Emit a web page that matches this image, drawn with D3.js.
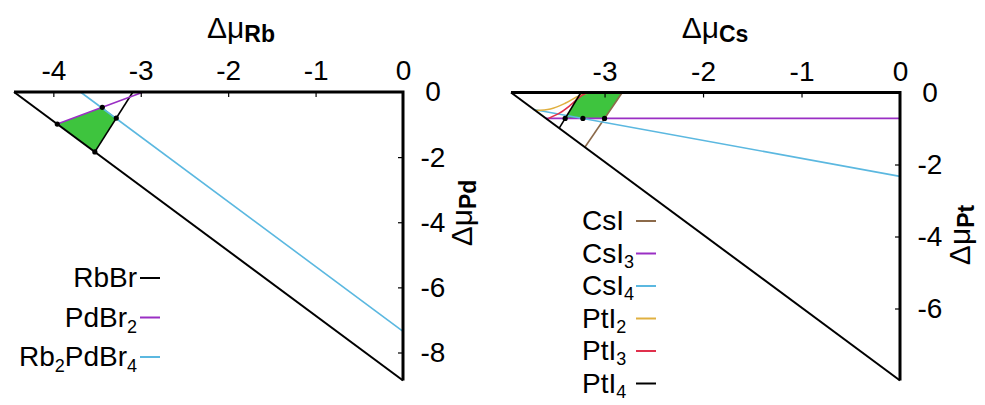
<!DOCTYPE html>
<html>
<head>
<meta charset="utf-8">
<script src="https://cdn.jsdelivr.net/npm/d3@7"></script>
<style>
  body { margin: 0; background: #fff; }
  text { font-family: "Liberation Sans", Arial, sans-serif; fill: #000; }
</style>
</head>
<body>
<script>
// ---- Rb / Pd / Br panel ----
const rbXTicks = [-4, -3, -2, -1, 0];
const rbYTicks = [0, -2, -4, -6, -8];
const rbCorner = [-4.45, -8.86];           // x-intercept, y-intercept of the hypotenuse
const rbNames = ["RbBr", "PdBr2", "Rb2PdBr4"];
const rbLines = [
  [[-3.09, 0], [-3.525, -1.84]],
  [[-3.955, -0.985], [-2.97, 0]],
  [[-3.69, 0], [0, -7.35]]
];
const rbStable = [[-3.955, -0.985], [-3.44, -0.47], [-3.28, -0.80], [-3.525, -1.84]];

// ---- Cs / Pt / I panel ----
const csXTicks = [-3, -2, -1, 0];
const csYTicks = [0, -2, -4, -6];
const csCorner = [-3.95, -8.0];
const csNames = ["CsI", "CsI3", "CsI4", "PtI2", "PtI3", "PtI4"];
const csLines = [
  [[-2.82, 0], [-3.2, -1.52]],
  [[-3.595, -0.72], [0, -0.72]],
  [[-3.72, -0.47], [0, -2.33]],
  [[-3.70, -0.50], [-3.55, -0.46], [-3.40, -0.30], [-3.25, -0.08], [-3.13, 0]],
  [[-3.57, -0.72], [-3.45, -0.56], [-3.35, -0.36], [-3.25, -0.12], [-3.18, 0]],
  [[-3.24, 0], [-3.46, -0.99]]
];
const csStable = [[-3.24, 0], [-2.82, 0], [-3.0, -0.72], [-3.40, -0.72]];
const csDots = [[-3.40, -0.72], [-3.22, -0.72], [-3.0, -0.72]];

const rbColors = ["#000000", "#9a2fc4", "#5bb8e0"];
const csColors = ["#8c6a4a", "#9a2fc4", "#5bb8e0", "#e0b040", "#e0304c", "#000000"];

const svg = d3.select("body").append("svg")
  .attr("width", 985).attr("height", 405);

function subText(sel, name, subSize, shift) {
  // digits in formula names are drawn as subscripts
  const parts = name.match(/\d+|\D+/g);
  let low = false;
  parts.forEach(p => {
    const isNum = /\d/.test(p);
    const t = sel.append("tspan").text(p);
    if (isNum) { t.attr("font-size", subSize).attr("dy", low ? 0 : shift); low = true; }
    else { t.attr("dy", low ? -shift : 0); low = false; }
  });
}

function panel(o) {
  const g = svg.append("g");
  const x = d3.scaleLinear().domain([o.corner[0], 0]).range(o.xr);
  const y = d3.scaleLinear().domain([0, o.corner[1]]).range(o.yr);
  const line = d3.line().x(d => x(d[0])).y(d => y(d[1]));
  const curve = d3.line().x(d => x(d[0])).y(d => y(d[1])).curve(d3.curveCatmullRom);

  g.append("path")
    .attr("d", line(o.stable) + "Z")
    .attr("fill", "#3ec43e");

  g.selectAll(".ser").data(o.lines).enter().append("path")
    .attr("d", d => d.length > 2 ? curve(d) : line(d))
    .attr("fill", "none")
    .attr("stroke", (d, i) => o.colors[i])
    .attr("stroke-width", 1.6);

  // hypotenuse
  g.append("path")
    .attr("d", line([[o.corner[0], 0], [0, o.corner[1]]]))
    .attr("stroke", "#000").attr("stroke-width", 2).attr("fill", "none");
  // frame along the two axes
  g.append("path")
    .attr("d", line([[o.corner[0], 0], [0, 0], [0, o.corner[1]]]))
    .attr("stroke", "#000").attr("stroke-width", 3).attr("fill", "none");

  const ax = g.append("g").attr("transform", `translate(0,${y(0)})`)
    .call(d3.axisTop(x).tickValues(o.xTicks).tickSize(-5).tickPadding(12).tickFormat(d => String(d)));
  const ay = g.append("g").attr("transform", `translate(${x(0)},0)`)
    .call(d3.axisRight(y).tickValues(o.yTicks).tickSize(-5).tickPadding(o.yLab).tickFormat(d => String(d)));
  [ax, ay].forEach(a => {
    a.select(".domain").remove();
    a.selectAll(".tick line").attr("stroke", "#000").attr("stroke-width", 1.2);
    a.selectAll("text").attr("font-size", 28).attr("font-family", null).attr("fill", "#000");
    a.selectAll(".tick").filter(d => d === 0).select("line").remove();
  });
  ay.selectAll("text").attr("text-anchor", "middle");

  g.selectAll(".dot").data(o.dots).enter().append("circle")
    .attr("cx", d => x(d[0])).attr("cy", d => y(d[1])).attr("r", 2.6).attr("fill", "#000");

  // axis titles
  const tx = g.append("text").attr("x", o.xTitle[0]).attr("y", o.xTitle[1])
    .attr("text-anchor", "middle").attr("font-size", 30);
  tx.append("tspan").text("Δμ");
  tx.append("tspan").text(o.xSub).attr("font-weight", "bold").attr("font-size", 23).attr("dy", 4);
  const ty = g.append("text")
    .attr("transform", `translate(${o.yTitle[0]},${o.yTitle[1]}) rotate(-90)`)
    .attr("text-anchor", "middle").attr("font-size", 30);
  ty.append("tspan").text("Δμ");
  ty.append("tspan").text(o.ySub).attr("font-weight", "bold").attr("font-size", 23).attr("dy", 4);

  // legend
  o.names.forEach((n, i) => {
    const yy = o.leg.y0 + i * o.leg.dy;
    const t = g.append("text").attr("x", o.leg.tx).attr("y", yy + 9)
      .attr("text-anchor", o.leg.anchor).attr("font-size", 28);
    subText(t, n, 18, o.leg.sub);
    g.append("line").attr("x1", o.leg.l0).attr("x2", o.leg.l1)
      .attr("y1", yy).attr("y2", yy)
      .attr("stroke", o.colors[i]).attr("stroke-width", 2);
  });
}

panel({
  corner: rbCorner, xr: [14, 403], yr: [92, 380.5],
  xTicks: rbXTicks, yTicks: rbYTicks, lines: rbLines, colors: rbColors,
  stable: rbStable, dots: rbStable, names: rbNames,
  yLab: 30, xTitle: [241, 38], xSub: "Rb", yTitle: [472, 213], ySub: "Pd",
  leg: { y0: 278, dy: 39.5, tx: 137, anchor: "end", l0: 140, l1: 160, sub: 6 }
});

panel({
  corner: csCorner, xr: [511, 900], yr: [92.5, 380.5],
  xTicks: csXTicks, yTicks: csYTicks, lines: csLines, colors: csColors,
  stable: csStable, dots: csDots, names: csNames,
  yLab: 30, xTitle: [715, 38], xSub: "Cs", yTitle: [970, 235], ySub: "Pt",
  leg: { y0: 221, dy: 32.5, tx: 582, anchor: "start", l0: 636, l1: 656, sub: 5 }
});
</script>
</body>
</html>
